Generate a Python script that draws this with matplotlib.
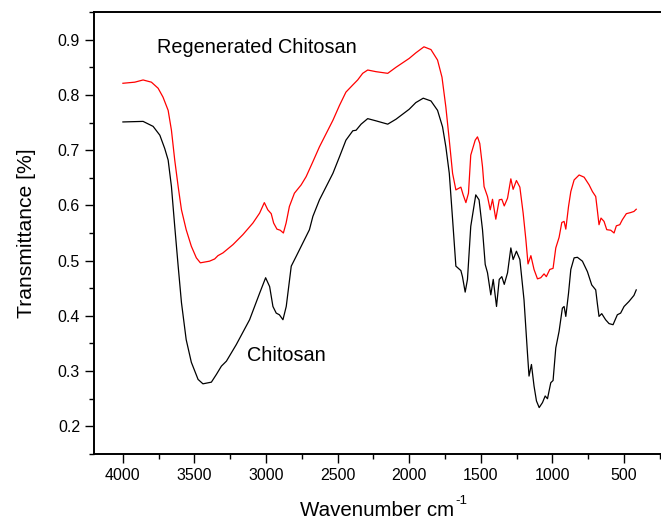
import matplotlib
matplotlib.use('Agg')
import matplotlib.pyplot as plt
from matplotlib.ticker import MultipleLocator

plt.rcParams['font.family'] = ['Liberation Sans', 'DejaVu Sans']

# FTIR spectra, wavenumber (cm-1) vs transmittance
wn_chitosan = [4000, 3859, 3789, 3742, 3708, 3684, 3661, 3638, 3614, 3591, 3558, 3522,
               3475, 3441, 3382, 3347, 3312, 3277, 3208, 3115, 3045, 3003, 2975, 2952,
               2929, 2907, 2882, 2859, 2824, 2789, 2743, 2720, 2697, 2673, 2627, 2580,
               2533, 2487, 2442, 2394, 2371, 2336, 2290, 2232, 2150, 2092, 2000, 1954,
               1902, 1848, 1802, 1767, 1744, 1720, 1697, 1674, 1639, 1628, 1609, 1593,
               1570, 1535, 1512, 1488, 1469, 1453, 1430, 1413, 1390, 1371, 1353, 1336,
               1313, 1290, 1274, 1251, 1227, 1198, 1174, 1163, 1146, 1128, 1111, 1092,
               1069, 1050, 1034, 1011, 995, 976, 953, 930, 918, 906, 887, 871, 848, 825,
               790, 755, 725, 697, 686, 674, 655, 628, 604, 576, 546, 523, 499, 465, 430,
               414]
t_chitosan = [0.751, 0.752, 0.743, 0.727, 0.703, 0.682, 0.634, 0.562, 0.490, 0.424, 0.357, 0.316,
              0.285, 0.277, 0.280, 0.294, 0.309, 0.318, 0.348, 0.393, 0.441, 0.469, 0.453, 0.417,
              0.405, 0.402, 0.393, 0.417, 0.490, 0.508, 0.532, 0.544, 0.556, 0.580, 0.610, 0.634,
              0.658, 0.688, 0.718, 0.735, 0.736, 0.747, 0.757, 0.753, 0.747, 0.756, 0.774, 0.786,
              0.794, 0.789, 0.772, 0.742, 0.706, 0.658, 0.575, 0.490, 0.482, 0.471, 0.443, 0.466,
              0.562, 0.619, 0.610, 0.556, 0.493, 0.478, 0.438, 0.466, 0.417, 0.466, 0.471, 0.457,
              0.478, 0.523, 0.502, 0.517, 0.502, 0.429, 0.333, 0.291, 0.312, 0.273, 0.246, 0.234,
              0.243, 0.255, 0.250, 0.279, 0.283, 0.342, 0.372, 0.414, 0.417, 0.399, 0.441, 0.484,
              0.505, 0.506, 0.499, 0.480, 0.456, 0.447, 0.423, 0.399, 0.404, 0.393, 0.386, 0.384,
              0.402, 0.405, 0.417, 0.426, 0.437, 0.447]

wn_regen = [4000, 3917, 3859, 3801, 3754, 3720, 3684, 3661, 3638, 3614, 3591, 3558, 3522,
            3487, 3459, 3395, 3359, 3336, 3301, 3231, 3162, 3092, 3045, 3012, 2988, 2964,
            2947, 2924, 2901, 2879, 2860, 2837, 2802, 2755, 2720, 2673, 2627, 2580, 2533,
            2487, 2442, 2394, 2360, 2325, 2290, 2232, 2150, 2092, 2000, 1954, 1897, 1848,
            1802, 1771, 1744, 1720, 1697, 1674, 1639, 1623, 1604, 1586, 1570, 1539, 1523,
            1507, 1488, 1477, 1453, 1434, 1418, 1395, 1371, 1353, 1336, 1313, 1290, 1274,
            1251, 1227, 1204, 1185, 1170, 1150, 1128, 1104, 1081, 1058, 1042, 1018, 995,
            976, 953, 934, 918, 906, 887, 871, 848, 813, 778, 743, 720, 697, 686, 674, 660,
            639, 620, 592, 569, 553, 529, 511, 483, 453, 430, 414]
t_regen = [0.821, 0.823, 0.827, 0.823, 0.812, 0.796, 0.772, 0.736, 0.682, 0.634, 0.592, 0.556, 0.526,
           0.505, 0.496, 0.499, 0.503, 0.509, 0.514, 0.529, 0.547, 0.568, 0.586, 0.605, 0.592, 0.585,
           0.568, 0.557, 0.555, 0.550, 0.568, 0.598, 0.622, 0.637, 0.652, 0.679, 0.706, 0.730, 0.754,
           0.781, 0.805, 0.818, 0.827, 0.839, 0.845, 0.842, 0.839, 0.850, 0.866, 0.876, 0.887, 0.882,
           0.863, 0.832, 0.778, 0.718, 0.658, 0.628, 0.633, 0.619, 0.605, 0.622, 0.691, 0.718, 0.724,
           0.712, 0.670, 0.634, 0.616, 0.592, 0.611, 0.575, 0.610, 0.611, 0.599, 0.613, 0.648, 0.629,
           0.645, 0.633, 0.586, 0.538, 0.494, 0.509, 0.484, 0.467, 0.469, 0.476, 0.471, 0.484, 0.486,
           0.523, 0.542, 0.569, 0.571, 0.557, 0.598, 0.625, 0.646, 0.655, 0.651, 0.637, 0.625, 0.616,
           0.592, 0.565, 0.577, 0.571, 0.556, 0.555, 0.550, 0.563, 0.565, 0.574, 0.585, 0.587, 0.589,
           0.593]

fig = plt.figure(figsize=(6.61, 5.22), dpi=100)
ax = fig.add_axes([0.1422, 0.1303, 0.8578, 0.8467])

ax.plot(wn_regen, t_regen, color='red', linewidth=0.9)
ax.plot(wn_chitosan, t_chitosan, color='black', linewidth=0.9)

ax.text(3762, 0.886, 'Regenerated Chitosan', fontsize=14.3, ha='left', va='center')
ax.text(3134, 0.328, 'Chitosan', fontsize=14.3, ha='left', va='center')

ax.set_xlim(4202, 241)
ax.set_ylim(0.15, 0.95)

ax.xaxis.set_major_locator(MultipleLocator(500))
ax.xaxis.set_minor_locator(MultipleLocator(250))
ax.yaxis.set_major_locator(MultipleLocator(0.1))
ax.yaxis.set_minor_locator(MultipleLocator(0.05))

ax.tick_params(which='major', direction='out', length=6.5, width=1.0, labelsize=11.5, pad=3.5)
ax.tick_params(which='minor', direction='out', length=3.6, width=1.0)
ax.tick_params(top=False, right=False)

for side in ['left', 'bottom', 'top']:
    ax.spines[side].set_linewidth(1.4)
ax.spines['right'].set_visible(False)

xlab = ax.set_xlabel('Wavenumber cm', fontsize=14.8, labelpad=13)
ax.set_ylabel('Transmittance [%]', fontsize=15.2, labelpad=16)

# superscript "-1" set just after the x label
ax.annotate('-1', xy=(1, 1), xycoords=xlab, xytext=(0.5, 4),
            textcoords='offset points', fontsize=9.5, ha='left', va='top')

fig.savefig('out.png', dpi=100)
